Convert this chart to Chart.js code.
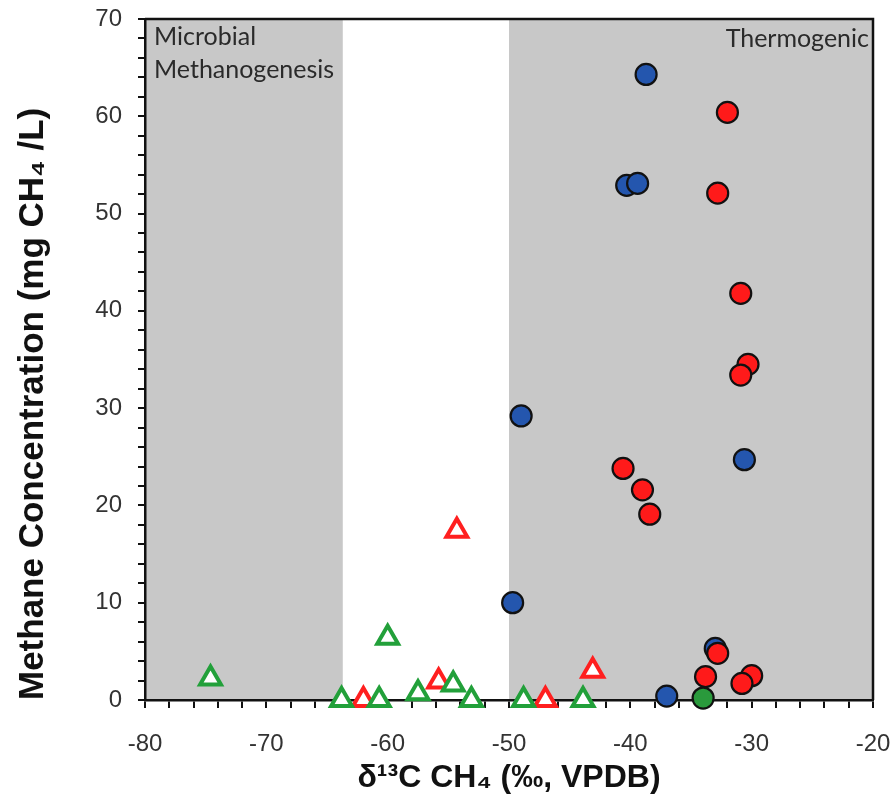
<!DOCTYPE html>
<html>
<head>
<meta charset="utf-8">
<script src="https://cdn.jsdelivr.net/npm/chart.js@4.4.1/dist/chart.umd.min.js"></script>
<style>
  html, body { margin: 0; padding: 0; background: #fff; }
  #wrap { width: 896px; height: 801px; }
</style>
</head>
<body>
<div id="wrap"><canvas id="chart"></canvas></div>
<script>
// axis ranges / ticks
const xRange = [-80, -20];
const yRange = [0, 70];
const xLabelStep = 10;
const yLabelStep = 10;

// shaded source zones (δ13C)
const microbialZone = [-80, -63.7];
const thermogenicZone = [-50, -20];
const zoneLabels = ['Microbial', 'Methanogenesis', 'Thermogenic'];

// filled circles
const blueX = [-38.7, -40.3, -39.4, -49.0, -30.6, -49.7, -37.0, -33.0];
const blueY = [64.3, 52.9, 53.1, 29.2, 24.7, 10.0, 0.4, 5.3];
const redX = [-32.0, -32.8, -30.9, -30.3, -30.9, -40.6, -39.0, -38.4, -32.8, -33.8, -30.0, -30.8];
const redY = [60.4, 52.1, 41.8, 34.5, 33.4, 23.8, 21.6, 19.1, 4.8, 2.4, 2.5, 1.7];
const greenX = [-34.0];
const greenY = [0.2];

// open triangles
const redTriX = [-54.3, -43.1, -55.8, -62.0, -47.0];
const redTriY = [17.4, 3.0, 1.9, 0, 0];
const greenTriX = [-74.6, -60.0, -63.8, -60.7, -57.5, -54.6, -53.1, -48.8, -43.9];
const greenTriY = [2.2, 6.4, 0, 0, 0.7, 1.6, 0, 0, 0];

function toPoints(xs, ys) {
    return xs.map((x, i) => ({x: x, y: ys[i]}));
}

const zonesPlugin = {
    id: 'zones',
    beforeDraw(chart) {
        const ctx = chart.ctx;
        const a = chart.chartArea;
        const xs = chart.scales.x;
        ctx.save();
        ctx.fillStyle = '#fff';
        ctx.fillRect(0, 0, chart.width, chart.height);
        ctx.fillStyle = '#c8c8c8';
        [microbialZone, thermogenicZone].forEach(z => {
            const x0 = xs.getPixelForValue(z[0]);
            const x1 = xs.getPixelForValue(z[1]);
            ctx.fillRect(x0, a.top, x1 - x0, a.bottom - a.top);
        });
        ctx.restore();
    },
    beforeDatasetsDraw(chart) {
        const ctx = chart.ctx;
        const a = chart.chartArea;
        ctx.save();
        // top and right frame
        ctx.strokeStyle = '#111';
        ctx.lineWidth = 2.5;
        ctx.beginPath();
        ctx.moveTo(a.left, a.top);
        ctx.lineTo(a.right, a.top);
        ctx.lineTo(a.right, a.bottom);
        ctx.stroke();
        // zone labels
        ctx.fillStyle = '#2a2a2a';
        ctx.font = '25px Lato, "Open Sans", sans-serif';
        ctx.textBaseline = 'middle';
        ctx.textAlign = 'left';
        ctx.fillText(zoneLabels[0], a.left + 9, a.top + 18);
        ctx.fillText(zoneLabels[1], a.left + 9, a.top + 51);
        ctx.textAlign = 'right';
        ctx.fillText(zoneLabels[2], a.right - 4, a.top + 20);
        ctx.restore();
    }
};

const ctx = document.getElementById('chart');
new Chart(ctx, {
    type: 'scatter',
    data: {
        datasets: [
            {
                label: 'green',
                data: toPoints(greenX, greenY),
                backgroundColor: '#2a9a3c',
                borderColor: '#111',
                borderWidth: 2.2,
                pointRadius: 10.5,
                clip: false,
                order: 1
            },
            {
                label: 'red',
                data: toPoints(redX, redY),
                backgroundColor: '#ff1a1a',
                borderColor: '#111',
                borderWidth: 2.2,
                pointRadius: 10.5,
                clip: false,
                order: 2
            },
            {
                label: 'blue',
                data: toPoints(blueX, blueY),
                backgroundColor: '#2456ae',
                borderColor: '#111',
                borderWidth: 2.2,
                pointRadius: 10.5,
                clip: false,
                order: 3
            },
            {
                label: 'green open',
                data: toPoints(greenTriX, greenTriY),
                pointStyle: 'triangle',
                backgroundColor: '#fff',
                borderColor: '#22a03a',
                borderWidth: 4,
                pointRadius: 12,
                clip: false,
                order: 4
            },
            {
                label: 'red open',
                data: toPoints(redTriX, redTriY),
                pointStyle: 'triangle',
                backgroundColor: '#fff',
                borderColor: '#ff1f1f',
                borderWidth: 4,
                pointRadius: 12,
                clip: false,
                order: 5
            }
        ]
    },
    options: {
        responsive: true,
        maintainAspectRatio: false,
        animation: false,
        layout: { padding: { top: 19, right: 23, left: 0, bottom: 0 } },
        plugins: {
            legend: { display: false },
            tooltip: { enabled: false }
        },
        scales: {
            x: {
                type: 'linear',
                min: xRange[0],
                max: xRange[1],
                afterFit: s => {
                    s.height = 101;
                    s.paddingLeft = 0;
                    s.paddingRight = 0;
                },
                ticks: {
                    stepSize: 2,
                    autoSkip: false,
                    maxRotation: 0,
                    padding: 22,
                    color: '#333',
                    font: { family: '"Liberation Sans", Arial, sans-serif', size: 24 },
                    callback: v => (v % xLabelStep === 0 ? v : '')
                },
                grid: {
                    drawOnChartArea: false,
                    color: '#111',
                    lineWidth: 2,
                    tickLength: 8
                },
                border: { color: '#111', width: 2.5 },
                title: {
                    display: true,
                    text: 'δ¹³C CH₄ (‰, VPDB)',
                    color: '#111',
                    font: { family: '"Liberation Sans", Arial, sans-serif', size: 32, weight: 'bold' },
                    padding: { top: 0, bottom: 4 }
                }
            },
            y: {
                type: 'linear',
                min: yRange[0],
                max: yRange[1],
                afterFit: s => {
                    s.width = 145;
                    s.paddingTop = 0;
                    s.paddingBottom = 0;
                },
                ticks: {
                    stepSize: 2,
                    autoSkip: false,
                    padding: 16,
                    color: '#333',
                    font: { family: '"Liberation Sans", Arial, sans-serif', size: 24 },
                    callback: v => (v % yLabelStep === 0 ? v : '')
                },
                grid: {
                    drawOnChartArea: false,
                    color: '#111',
                    lineWidth: 2,
                    tickLength: 7
                },
                border: { color: '#111', width: 2.5 },
                title: {
                    display: true,
                    align: 'start',
                    text: 'Methane Concentration (mg CH₄ /L)',
                    color: '#111',
                    font: { family: '"Liberation Sans", Arial, sans-serif', size: 35, weight: 'bold' },
                    padding: { top: 12, bottom: 0 }
                }
            }
        }
    },
    plugins: [zonesPlugin]
});
</script>
</body>
</html>
